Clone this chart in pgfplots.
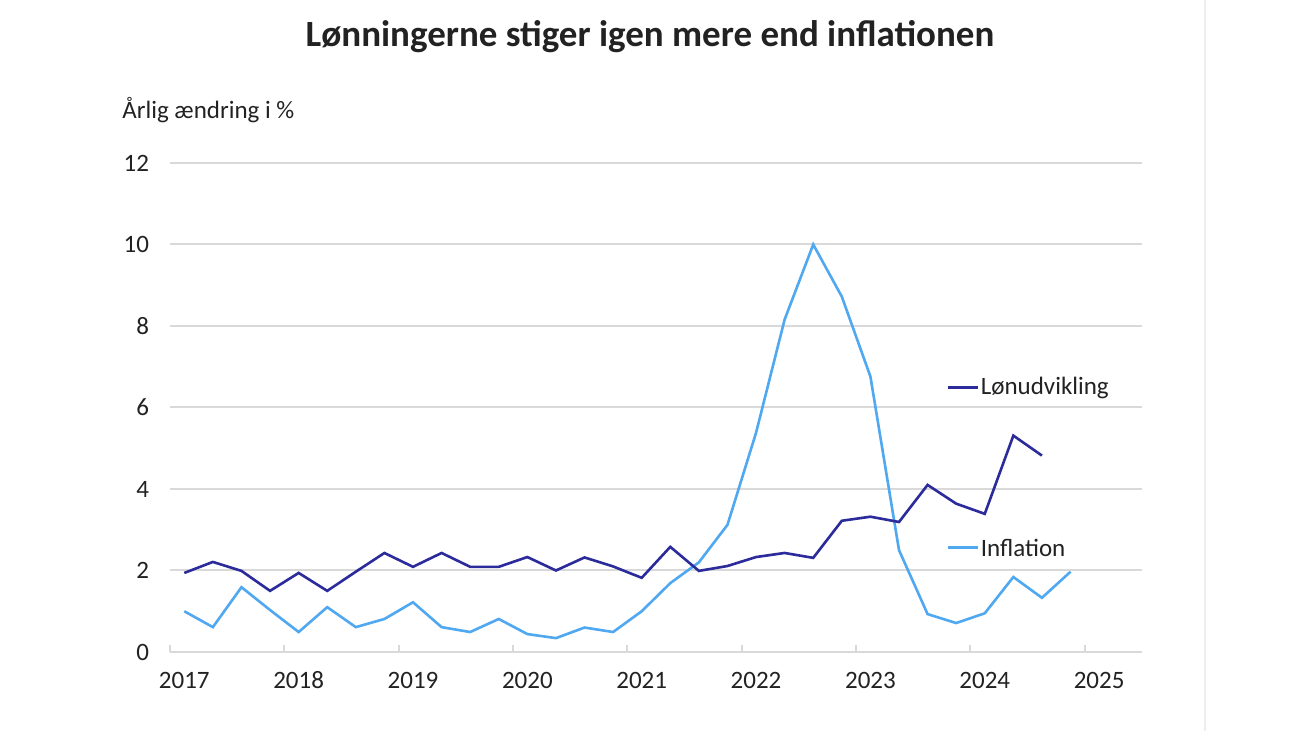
\documentclass[border=0pt]{standalone}
\usepackage{pgfplots}
\pgfplotsset{compat=1.18}
\usepackage{fontspec}
\setmainfont{Carlito}
\definecolor{lon}{HTML}{2B2B9B}
\definecolor{infl}{HTML}{4FA8F0}
\definecolor{gridc}{HTML}{D9D9D9}
\definecolor{txt}{HTML}{222222}
\pgfplotstableread{
k v
0 1.94
1 2.21
2 1.99
3 1.50
4 1.94
5 1.50
6 1.97
7 2.43
8 2.09
9 2.43
10 2.09
11 2.09
12 2.33
13 2.00
14 2.32
15 2.10
16 1.82
17 2.58
18 1.99
19 2.11
20 2.33
21 2.43
22 2.31
23 3.22
24 3.32
25 3.19
26 4.10
27 3.64
28 3.39
29 5.31
30 4.82
}\lontab
\pgfplotstableread{
k v
0 1.00
1 0.61
2 1.59
3 1.03
4 0.49
5 1.10
6 0.61
7 0.81
8 1.22
9 0.61
10 0.49
11 0.81
12 0.44
13 0.34
14 0.60
15 0.49
16 1.00
17 1.69
18 2.20
19 3.12
20 5.38
21 8.16
22 10.00
23 8.72
24 6.76
25 2.50
26 0.93
27 0.71
28 0.95
29 1.84
30 1.33
31 1.97
}\infltab
\begin{document}
\begin{tikzpicture}
\path[use as bounding box] (0,0) rectangle (650pt,365.5pt);
\fill[white] (0,0) rectangle (650pt,365.5pt);
\draw[color={rgb,255:red,238;green,238;blue,238}, line width=0.8pt] (602.5pt,0) -- (602.5pt,365.5pt);
\begin{axis}[
  at={(85pt,39.5pt)}, anchor=south west,
  scale only axis, width=486pt, height=244.5pt,
  xmin=-0.5, xmax=33.5, ymin=0, ymax=12,
  axis x line*=bottom, axis y line*=left,
  x axis line style={draw=gridc, line width=1pt, -},
  y axis line style={draw=none, -},
  xtick={0,4,...,32},
  xticklabels={2017,2018,2019,2020,2021,2022,2023,2024,2025},
  minor xtick={-0.5,3.5,...,31.5},
  major tick length=0pt,
  minor tick length=3.5pt,
  tick align=inside,
  minor tick style={draw=gridc, line width=1pt},
  ytick={0,2,...,12},
  ymajorgrids, grid style={draw=gridc, line width=1pt},
  tick label style={font=\fontsize{12.5}{14}\selectfont, text=txt},
  xticklabel style={yshift=-7pt, text height=1.6ex, text depth=0.2ex},
  yticklabel style={anchor=east, xshift=-7pt},
  /pgf/number format/assume math mode=true,
  clip=false,
]
\addplot[infl, line width=1.3pt] table[x=k,y=v] {\infltab};
\addplot[lon, line width=1.3pt] table[x=k,y=v] {\lontab};
\draw[lon, line width=1.3pt] (axis cs:26.7,6.49) -- (axis cs:27.75,6.49);
\node[anchor=west, inner sep=1pt, text=txt, font=\fontsize{12.5}{14}\selectfont] at (axis cs:27.78,6.49) {Lønudvikling};
\draw[infl, line width=1.3pt] (axis cs:26.7,2.56) -- (axis cs:27.75,2.56);
\node[anchor=west, inner sep=1pt, text=txt, font=\fontsize{12.5}{14}\selectfont] at (axis cs:27.78,2.56) {Inflation};
\end{axis}
\node[text=txt, font=\bfseries\fontsize{18.5}{22}\selectfont] at (325pt,347pt) {Lønningerne stiger igen mere end inflationen};
\node[anchor=west, inner sep=0pt, text=txt, font=\fontsize{12.5}{14}\selectfont] at (61pt,310.5pt) {Årlig ændring i \%};
\end{tikzpicture}
\end{document}
